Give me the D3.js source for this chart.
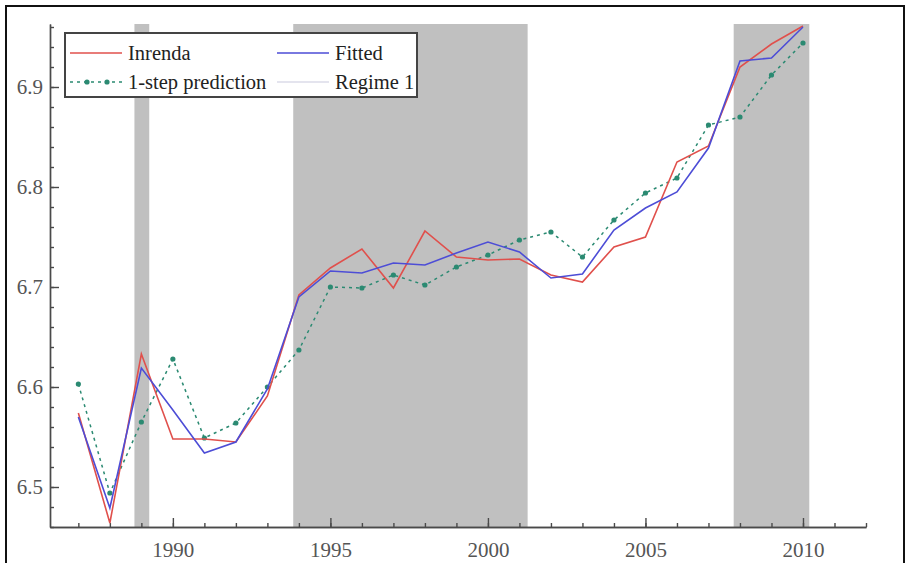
<!DOCTYPE html>
<html>
<head>
<meta charset="utf-8">
<script src="https://cdn.jsdelivr.net/npm/d3@7"></script>
<style>
  html, body { margin: 0; padding: 0; background: #fff; }
  svg { display: block; }
  text { font-family: "Liberation Serif", "DejaVu Serif", serif; }
</style>
</head>
<body>
<svg id="chart" width="908" height="563"></svg>
<script>
// Annual observations
const years = [1987, 1988, 1989, 1990, 1991, 1992, 1993, 1994, 1995, 1996, 1997, 1998,
               1999, 2000, 2001, 2002, 2003, 2004, 2005, 2006, 2007, 2008, 2009, 2010];

const inrenda = [6.574, 6.464, 6.633, 6.548, 6.548, 6.545, 6.591, 6.692, 6.719, 6.738, 6.699, 6.756,
                 6.730, 6.727, 6.728, 6.712, 6.705, 6.740, 6.750, 6.825, 6.841, 6.920, 6.943, 6.961];

const fitted = [6.570, 6.479, 6.619, 6.577, 6.534, 6.545, 6.598, 6.690, 6.716, 6.714, 6.724, 6.722,
                6.734, 6.745, 6.735, 6.709, 6.713, 6.757, 6.779, 6.795, 6.839, 6.926, 6.929, 6.960];

const prediction = [6.603, 6.494, 6.565, 6.628, 6.549, 6.564, 6.600, 6.637, 6.700, 6.699, 6.712, 6.702,
                    6.720, 6.732, 6.747, 6.755, 6.730, 6.767, 6.794, 6.809, 6.862, 6.870, 6.912, 6.944];

// Periods classified as regime 1 (start, end in years)
const regimeStart = [1988.78, 1993.82, 2007.80];
const regimeEnd   = [1989.25, 2001.26, 2010.20];

// Axis ticks
const xMajorTicks = [1990, 1995, 2000, 2005, 2010];
const xMinorTicks = d3.range(1987, 2013);
const yMajorTicks = [6.5, 6.6, 6.7, 6.8, 6.9];
const yMinorTicks = d3.range(6.46, 6.961, 0.02);

const legendLabels = ["Inrenda", "Fitted", "1-step prediction", "Regime 1"];

const svg = d3.select("#chart");

const x = d3.scaleLinear().domain([1986.1, 2012.0]).range([50, 866]);
const y = d3.scaleLinear().domain([6.46, 6.963]).range([527, 24]);

// Outer frame
svg.append("rect")
  .attr("x", 6).attr("y", 6).attr("width", 898).attr("height", 580)
  .attr("fill", "none").attr("stroke", "#111").attr("stroke-width", 2);

// Regime shading
svg.append("g").selectAll("rect")
  .data(regimeStart.map((s, i) => [s, regimeEnd[i]]))
  .join("rect")
  .attr("x", d => x(d[0]))
  .attr("width", d => x(d[1]) - x(d[0]))
  .attr("y", y.range()[1])
  .attr("height", y.range()[0] - y.range()[1])
  .attr("fill", "#c0c0c0");

// Axes
const axisColor = "#4a4a4a";
const labelColor = "#555";

const gxMinor = svg.append("g").attr("transform", `translate(0,${y.range()[0]})`)
  .call(d3.axisBottom(x).tickValues(xMinorTicks).tickSizeInner(-4).tickSizeOuter(0).tickFormat(""));
const gx = svg.append("g").attr("transform", `translate(0,${y.range()[0]})`)
  .call(d3.axisBottom(x).tickValues(xMajorTicks).tickSizeInner(-9).tickSizeOuter(0)
    .tickPadding(15).tickFormat(d3.format("d")));

const gyMinor = svg.append("g").attr("transform", `translate(${x.range()[0]},0)`)
  .call(d3.axisLeft(y).tickValues(yMinorTicks).tickSizeInner(-4).tickSizeOuter(0).tickFormat(""));
const gy = svg.append("g").attr("transform", `translate(${x.range()[0]},0)`)
  .call(d3.axisLeft(y).tickValues(yMajorTicks).tickSizeInner(-9).tickSizeOuter(0)
    .tickPadding(7).tickFormat(d3.format(".1f")));

[gxMinor, gx, gyMinor, gy].forEach(g => {
  g.selectAll("path.domain").attr("stroke", axisColor).attr("stroke-width", 1.4);
  g.selectAll(".tick line").attr("stroke", axisColor).attr("stroke-width", 1.4);
  g.selectAll(".tick text").attr("fill", labelColor).attr("font-size", 21)
    .attr("font-family", "'Liberation Serif', serif");
});

// Series
const colRed = "#e0504c";
const colBlue = "#4d4dd6";
const colTeal = "#2b8a72";
const colRegime = "#c9c9de";

const line = d3.line().x((d, i) => x(years[i])).y(d => y(d));

svg.append("path").datum(prediction)
  .attr("d", line).attr("fill", "none")
  .attr("stroke", colTeal).attr("stroke-width", 1.5).attr("stroke-dasharray", "3,4");
svg.append("g").selectAll("circle").data(prediction).join("circle")
  .attr("cx", (d, i) => x(years[i])).attr("cy", d => y(d)).attr("r", 2.6)
  .attr("fill", colTeal);

svg.append("path").datum(inrenda)
  .attr("d", line).attr("fill", "none")
  .attr("stroke", colRed).attr("stroke-width", 1.6);

svg.append("path").datum(fitted)
  .attr("d", line).attr("fill", "none")
  .attr("stroke", colBlue).attr("stroke-width", 1.6);

// Legend
const legend = svg.append("g");
legend.append("rect")
  .attr("x", 65).attr("y", 33).attr("width", 352).attr("height", 64)
  .attr("fill", "#fff").attr("stroke", "#444").attr("stroke-width", 2);

const legendItems = [
  { label: legendLabels[0], x: 70, y: 53, color: colRed, dash: null, dots: false },
  { label: legendLabels[1], x: 277, y: 53, color: colBlue, dash: null, dots: false },
  { label: legendLabels[2], x: 70, y: 82, color: colTeal, dash: "3,4", dots: true },
  { label: legendLabels[3], x: 277, y: 82, color: colRegime, dash: null, dots: false }
];

legendItems.forEach(it => {
  legend.append("line")
    .attr("x1", it.x).attr("x2", it.x + 52)
    .attr("y1", it.y).attr("y2", it.y)
    .attr("stroke", it.color).attr("stroke-width", it.label === legendLabels[3] ? 1.2 : 1.6)
    .attr("stroke-dasharray", it.dash);
  if (it.dots) {
    legend.selectAll(null).data([it.x + 17, it.x + 37]).join("circle")
      .attr("cx", d => d).attr("cy", it.y).attr("r", 2.6).attr("fill", it.color);
  }
  legend.append("text")
    .attr("x", it.x + 58).attr("y", it.y)
    .attr("dy", "0.33em")
    .attr("font-size", 20.5)
    .attr("fill", "#222")
    .text(it.label);
});
</script>
</body>
</html>
